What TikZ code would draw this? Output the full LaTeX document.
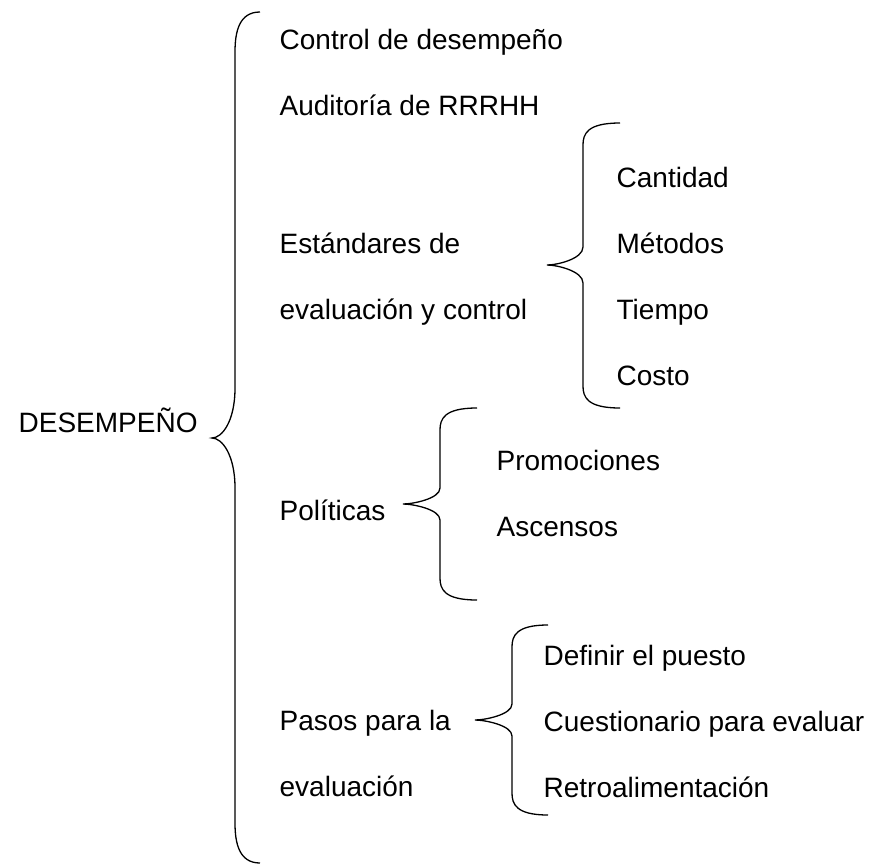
\documentclass[tikz,border=0pt]{standalone}
\usepackage{fontspec}
\setmainfont{Liberation Sans}
% curly brace: end x, vertical x, tip x, top y, tip y, bottom y, end bend, tip bend
\newcommand\llave[8]{%
  \draw (#1,#4) .. controls (#2+4,#4) and (#2,#4+#7/2) .. (#2,#4+#7)
    -- (#2,#5-#8) .. controls (#2,#5-#8/3) and (#3+10,#5) .. (#3,#5)
    .. controls (#3+10,#5) and (#2,#5+#8/3) .. (#2,#5+#8)
    -- (#2,#6-#7) .. controls (#2,#6-#7/2) and (#2+4,#6) .. (#1,#6);}
\begin{document}
\begin{tikzpicture}[x=1pt,y=-1pt,line width=1.3pt,
  txt/.style={anchor=base west,inner sep=0pt,font=\fontsize{28}{33}\selectfont}]
  \useasboundingbox (0,0) rectangle (887,865);
  % root
  \node[txt] (desempeno) at (18,432) {DESEMPEÑO};
  \llave{260}{235}{212}{12}{438}{863}{40}{50}
  % first level
  \node[txt] (control) at (279,49) {Control de desempeño};
  \node[txt] (auditoria) at (279,115) {Auditoría de RRRHH};
  \node[txt] (estandares) at (279,253) {Estándares de};
  \node[txt] (estandares2) at (279,319) {evaluación y control};
  \node[txt] (politicas) at (279,520) {Políticas};
  \node[txt] (pasos) at (279,730) {Pasos para la};
  \node[txt] (pasos2) at (279,796) {evaluación};
  % standards
  \llave{620}{583}{547}{123}{265}{408}{22}{18}
  \node[txt] (cantidad) at (616,187) {Cantidad};
  \node[txt] (metodos) at (616,253) {Métodos};
  \node[txt] (tiempo) at (616,319) {Tiempo};
  \node[txt] (costo) at (616,385) {Costo};
  % policies
  \llave{477}{440}{403}{408}{504}{600}{22}{16}
  \node[txt] (promociones) at (496,470) {Promociones};
  \node[txt] (ascensos) at (496,536) {Ascensos};
  % steps
  \llave{548}{512}{475}{625}{720}{815}{22}{16}
  \node[txt] (definir) at (543,665) {Definir el puesto};
  \node[txt] (cuestionario) at (543,731) {Cuestionario para evaluar};
  \node[txt] (retro) at (543,797) {Retroalimentación};
\end{tikzpicture}
\end{document}
